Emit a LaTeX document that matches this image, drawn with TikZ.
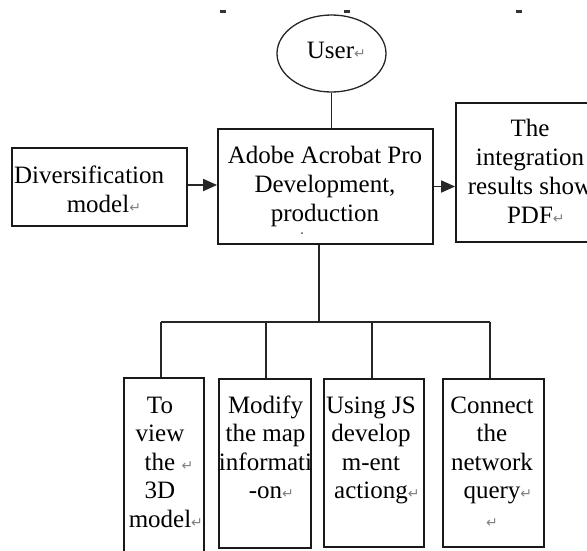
\documentclass[tikz,border=0pt]{standalone}
\usepackage{fontspec}
\setmainfont{Liberation Serif}
\newfontfamily\symfont{DejaVu Sans}
\usetikzlibrary{shapes.geometric,arrows.meta}
\newcommand\parmark{{\color{gray}\symfont\fontsize{14}{14}\selectfont ↵}}
\tikzset{
  boxnode/.style={draw=black!90, line width=1.8pt, inner sep=0pt, minimum width=#1},
  ellnode/.style={ellipse, draw=black!85, line width=1.3pt, inner sep=0pt},
  txt/.style={inner sep=0pt, anchor=base, font=\fontsize{25}{29}\selectfont},
  txtb/.style={txt, font=\fontsize{25}{28.6}\selectfont},
  conn/.style={draw=black!85, line width=1.8pt},
  arr/.style={conn, -{Triangle[length=14pt,width=12pt]}}
}
\begin{document}
\begin{tikzpicture}[x=1pt,y=-1pt]
\useasboundingbox (0,0) rectangle (587,550);
\clip (0,0) rectangle (587,550);
% fragments at top
\fill[black!80] (220,9.5) rectangle (226,12.5);
\fill[black!80] (344,9.5) rectangle (350,12.5);
\fill[black!80] (516,9.5) rectangle (522,12.5);
% nodes
\node[ellnode, minimum width=109pt, minimum height=77pt] (user) at (331.5,53.5) {};
\node[txt] (tuser) at (330.5,58) {User\rlap{\parmark}};
\node[boxnode=175pt, minimum height=78pt] (div) at (99.5,187) {};
\node[boxnode=215pt, minimum height=115pt] (main) at (325.5,186.5) {};
\node[boxnode=148pt, minimum height=139pt] (right) at (530,172.5) {};
\node[boxnode=80pt, minimum height=197pt] (b1) at (164,476.5) {};
\node[boxnode=92pt, minimum height=169pt] (b2) at (265,463.5) {};
\node[boxnode=100pt, minimum height=168pt] (b3) at (374,463) {};
\node[boxnode=101pt, minimum height=168pt] (b4) at (493.5,463) {};
% texts
\node[txt, anchor=base west] (tdiv) at (14,183) {\parbox[t]{170pt}{\raggedright Diversification\\\hspace*{52.6pt}model\parmark}};
\node[txt] (tmain) at (325,163) {\parbox[t]{210pt}{\centering Adobe Acrobat Pro\\Development,\\production}};
\fill[black!70] (302,233) circle (1pt);
\node[txt] (tright) at (530,136) {\parbox[t]{140pt}{\centering The\\integration\\results show\\PDF\rlap{\parmark}}};
\node[txtb] (t1) at (160,413) {\parbox[t]{120pt}{\centering To\\view\\the\rlap{\ \parmark}\\3D\\model\rlap{\parmark}}};
\node[txtb] (t2) at (265.5,413) {\parbox[t]{120pt}{\centering Modify\\the map\\informati\\-on\rlap{\parmark}}};
\node[txtb] (t3) at (371,413) {\parbox[t]{120pt}{\centering Using JS\\develop\\m-ent\\actiong\rlap{\parmark}}};
\node[txtb] (t4) at (492,413) {\parbox[t]{120pt}{\centering Connect\\the\\network\\query\rlap{\parmark}\\\parmark}};
% connectors
\draw[conn] (user.south) -- (user.south |- main.north);
\draw[arr] ([yshift=2pt]div.east) -- ([yshift=2pt]div.east -| main.west);
\draw[arr] (main.east) -- (main.east -| right.west);
\coordinate (jm) at (319,322);
\coordinate (j1) at (161,322);
\coordinate (j2) at (266,322);
\coordinate (j3) at (372,322);
\coordinate (j4) at (490,322);
\draw[conn] (jm |- main.south) -- (jm);
\draw[conn] (j1) -- (j4);
\draw[conn] (j1) -- (j1 |- b1.north);
\draw[conn] (j2) -- (j2 |- b2.north);
\draw[conn] (j3) -- (j3 |- b3.north);
\draw[conn] (j4) -- (j4 |- b4.north);
\end{tikzpicture}
\end{document}
